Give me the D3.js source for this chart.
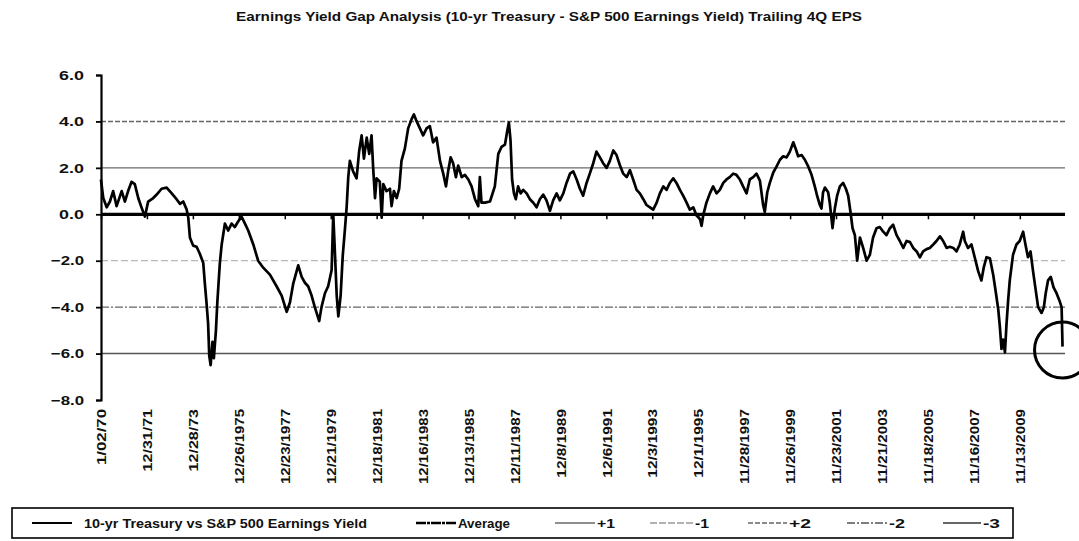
<!DOCTYPE html>
<html><head><meta charset="utf-8">
<script src="https://cdn.jsdelivr.net/npm/d3@7"></script>
<style>
html,body{margin:0;padding:0;background:#fff;}
svg{display:block;}
text{font-family:"Liberation Sans",Arial,sans-serif;fill:#111;}
</style></head>
<body><svg id="chart" width="1079" height="541"></svg>
<script>
// ---------- DATA ----------
const chartTitle = "Earnings Yield Gap Analysis (10-yr Treasury - S&P 500 Earnings Yield) Trailing 4Q EPS";
const years = [
1970.00,1970.10,1970.25,1970.39,1970.53,1970.68,1970.90,1971.04,1971.18,1971.33,1971.47,1971.62,1971.76,1971.91,
1972.05,1972.27,1972.42,1972.63,1972.85,1973.07,1973.28,1973.43,1973.57,1973.72,1973.79,1973.86,1974.00,1974.15,
1974.29,1974.44,1974.51,1974.58,1974.65,1974.70,1974.76,1974.84,1974.90,1974.99,1975.05,1975.16,1975.24,1975.38,
1975.52,1975.67,1975.81,1975.96,1976.10,1976.25,1976.39,1976.61,1976.82,1977.04,1977.33,1977.62,1977.84,1978.06,
1978.20,1978.34,1978.56,1978.71,1978.85,1978.99,1979.14,1979.28,1979.47,1979.57,1979.72,1979.86,1980.01,1980.08,
1980.15,1980.23,1980.30,1980.40,1980.49,1980.59,1980.66,1980.73,1980.80,1980.94,1981.09,1981.20,1981.31,1981.41,
1981.53,1981.64,1981.74,1981.81,1981.89,1981.96,1982.10,1982.18,1982.25,1982.39,1982.54,1982.61,1982.71,1982.83,
1982.94,1983.04,1983.19,1983.33,1983.48,1983.58,1983.70,1983.84,1983.98,1984.13,1984.27,1984.41,1984.56,1984.71,
1984.85,1984.97,1985.07,1985.17,1985.28,1985.40,1985.50,1985.65,1985.79,1985.94,1986.08,1986.23,1986.37,1986.44,
1986.51,1986.66,1986.88,1987.09,1987.24,1987.38,1987.53,1987.63,1987.70,1987.77,1987.84,1987.92,1988.00,1988.10,
1988.21,1988.32,1988.47,1988.61,1988.76,1988.90,1989.04,1989.19,1989.33,1989.48,1989.62,1989.77,1989.91,1990.06,
1990.20,1990.35,1990.49,1990.64,1990.78,1990.92,1991.07,1991.21,1991.36,1991.50,1991.65,1991.79,1991.94,1992.08,
1992.23,1992.37,1992.52,1992.66,1992.81,1992.95,1993.09,1993.24,1993.38,1993.53,1993.67,1993.82,1993.96,1994.11,
1994.25,1994.40,1994.54,1994.68,1994.83,1994.97,1995.12,1995.26,1995.41,1995.55,1995.70,1995.84,1995.99,1996.06,
1996.13,1996.27,1996.42,1996.56,1996.71,1996.85,1997.00,1997.14,1997.28,1997.43,1997.57,1997.72,1997.86,1998.01,
1998.15,1998.30,1998.44,1998.59,1998.73,1998.80,1998.91,1999.02,1999.17,1999.31,1999.46,1999.60,1999.75,1999.89,
2000.04,2000.15,2000.25,2000.40,2000.54,2000.69,2000.83,2000.97,2001.07,2001.19,2001.26,2001.33,2001.41,2001.55,
2001.62,2001.74,2001.84,2001.94,2002.06,2002.20,2002.32,2002.42,2002.52,2002.61,2002.71,2002.81,2002.93,2003.07,
2003.22,2003.36,2003.50,2003.65,2003.79,2003.94,2004.08,2004.23,2004.37,2004.52,2004.66,2004.81,2004.95,2005.10,
2005.24,2005.39,2005.53,2005.67,2005.82,2005.96,2006.11,2006.25,2006.40,2006.54,2006.69,2006.83,2006.98,2007.12,
2007.26,2007.41,2007.48,2007.62,2007.77,2007.91,2008.06,2008.20,2008.30,2008.42,2008.57,2008.71,2008.83,2008.93,
2009.00,2009.07,2009.14,2009.22,2009.29,2009.36,2009.43,2009.57,2009.72,2009.86,2010.01,2010.11,2010.22,2010.33,
2010.44,2010.56,2010.66,2010.81,2010.91,2010.99,2011.09,2011.21,2011.33,2011.46,2011.58,2011.68,2011.72];
const gapValues = [
1.5,0.7,0.3,0.55,1.0,0.35,1.0,0.55,1.0,1.4,1.3,0.7,0.3,-0.1,
0.55,0.7,0.85,1.1,1.15,0.9,0.65,0.45,0.55,0.2,-0.15,-1.0,-1.35,-1.4,
-1.7,-2.1,-3.0,-3.8,-4.7,-6.1,-6.5,-5.5,-6.2,-5.0,-3.8,-2.1,-1.3,-0.4,
-0.7,-0.4,-0.55,-0.3,-0.1,-0.4,-0.7,-1.3,-2.0,-2.3,-2.6,-3.1,-3.5,-4.2,
-3.8,-3.0,-2.2,-2.7,-2.95,-3.1,-3.5,-4.0,-4.6,-4.0,-3.4,-3.1,-2.4,0.0,
-1.6,-3.5,-4.4,-3.5,-1.8,-0.6,0.3,1.6,2.3,1.85,1.55,2.7,3.4,2.4,
3.3,2.6,3.4,2.0,0.7,1.55,1.4,-0.15,1.3,1.0,1.1,0.35,1.0,0.7,
1.1,2.3,2.85,3.7,4.1,4.3,4.0,3.7,3.4,3.7,3.8,3.1,3.3,2.3,
1.75,1.2,1.9,2.45,2.2,1.6,2.1,1.6,1.7,1.5,1.2,0.65,0.35,1.6,
0.5,0.5,0.55,1.2,2.6,2.9,3.0,3.6,3.95,3.2,1.5,0.9,0.65,1.2,
0.9,1.05,0.9,0.65,0.5,0.3,0.65,0.85,0.6,0.15,0.6,0.9,0.6,0.9,
1.35,1.75,1.85,1.5,1.1,0.8,1.35,1.75,2.2,2.7,2.45,2.2,2.0,2.3,
2.75,2.55,2.1,1.75,1.6,1.9,1.5,1.05,0.9,0.65,0.4,0.3,0.2,0.5,
0.9,1.2,1.05,1.35,1.55,1.35,1.05,0.8,0.5,0.2,0.3,-0.05,-0.2,-0.5,
-0.05,0.5,0.9,1.2,0.9,1.05,1.35,1.5,1.6,1.75,1.7,1.5,1.2,0.9,
1.5,1.6,1.75,1.45,0.4,0.1,0.95,1.35,1.8,2.05,2.35,2.5,2.45,2.7,
3.1,2.8,2.5,2.55,2.35,2.05,1.7,1.2,0.8,0.4,0.25,0.95,1.15,0.95,
0.5,-0.6,0.25,0.8,1.2,1.35,1.1,0.8,0.1,-0.6,-0.9,-2.0,-1.0,-1.45,
-2.0,-1.75,-1.0,-0.6,-0.55,-0.75,-0.9,-0.6,-0.45,-0.9,-1.15,-1.45,-1.15,-1.2,
-1.45,-1.6,-1.85,-1.6,-1.5,-1.45,-1.3,-1.15,-0.95,-1.15,-1.45,-1.4,-1.45,-1.6,
-1.3,-0.75,-1.15,-1.45,-1.3,-1.85,-2.45,-2.85,-2.3,-1.85,-1.9,-2.6,-3.4,-4.1,
-4.85,-5.8,-5.4,-5.95,-4.7,-3.7,-2.85,-1.75,-1.3,-1.15,-0.75,-1.3,-1.85,-1.6,
-2.45,-3.3,-4.0,-4.25,-4.0,-3.4,-2.85,-2.7,-3.15,-3.4,-3.7,-4.0,-5.7];
const yTicks = [6, 4, 2, 0, -2, -4, -6, -8];
const tickDates = ["1970-01-02","1971-12-31","1973-12-28","1975-12-26","1977-12-23","1979-12-21","1981-12-18",
  "1983-12-16","1985-12-13","1987-12-11","1989-12-08","1991-12-06","1993-12-03","1995-12-01","1997-11-28",
  "1999-11-26","2001-11-23","2003-11-21","2005-11-18","2007-11-16","2009-11-13"];
const tickLabels = ["1/02/70","12/31/71","12/28/73","12/26/1975","12/23/1977","12/21/1979","12/18/1981",
  "12/16/1983","12/13/1985","12/11/1987","12/8/1989","12/6/1991","12/3/1993","12/1/1995","11/28/1997",
  "11/26/1999","11/23/2001","11/21/2003","11/18/2005","11/16/2007","11/13/2009"];
const seriesName = "10-yr Treasury vs S&P 500 Earnings Yield";
const refLabels = ["Average","+1","-1","+2","-2","-3"];
const refValues = [0, 2, -2, 4, -4, -6];
const highlightValue = -5.85;   // circled last reading

// ---------- SETUP ----------
const svg = d3.select("#chart");
svg.append("rect").attr("width",1079).attr("height",541).attr("fill","#fff");
const parse = d3.timeParse("%Y-%m-%d");
function yearToDate(y){
  const yr = Math.floor(y), a = new Date(yr,0,1), b = new Date(yr+1,0,1);
  return new Date(+a + (y-yr)*(b-a));
}
const data = years.map((y,i)=>({date:yearToDate(y), v:gapValues[i]}));
const tDates = tickDates.map(parse);

const x = d3.scaleTime().domain([parse("1970-01-02"), parse("2011-10-30")]).range([101, 1065]);
const y = d3.scaleLinear().domain([-8, 6]).range([400, 75]);

// title
svg.append("text").attr("x",549).attr("y",21).attr("text-anchor","middle")
  .attr("font-size",12).attr("font-weight","bold").attr("textLength",626)
  .attr("lengthAdjust","spacingAndGlyphs").text(chartTitle);

// reference lines
const refStyle = {
  "Average":{c:"#000",w:3.2,d:null},
  "+1":{c:"#6a6a6a",w:1.3,d:null},
  "-1":{c:"#b8b8b8",w:1.3,d:"7,3"},
  "+2":{c:"#666",w:1.4,d:"5,2"},
  "-2":{c:"#666",w:1.4,d:"8,2,2,2"},
  "-3":{c:"#555",w:1.5,d:null}
};
const order = ["+1","-1","+2","-2","-3","Average"];
order.forEach(lbl=>{
  const i = refLabels.indexOf(lbl), s = refStyle[lbl];
  svg.append("line").attr("x1",x.range()[0]).attr("x2",x.range()[1])
    .attr("y1",y(refValues[i])).attr("y2",y(refValues[i]))
    .attr("stroke",s.c).attr("stroke-width",s.w).attr("stroke-dasharray",s.d);
});

// category ticks on the zero line
const tickAxis = svg.append("g").attr("transform",`translate(0,${y(0)})`)
  .call(d3.axisBottom(x).tickValues(tDates).tickSize(5).tickFormat(""));
tickAxis.select(".domain").remove();
tickAxis.selectAll("line").attr("stroke","#000").attr("stroke-width",1.5);

// x labels
const labAxis = svg.append("g").attr("transform","translate(0,409)")
  .call(d3.axisBottom(x).tickValues(tDates).tickSize(0).tickFormat((d,i)=>tickLabels[i]));
labAxis.select(".domain").remove();
labAxis.selectAll("text")
  .attr("transform","rotate(-90)").attr("text-anchor","end")
  .attr("x",0).attr("y",0).attr("dy","0.36em")
  .attr("font-size",13).attr("font-weight","bold").attr("fill","#111")
  .attr("font-family","'Liberation Sans',Arial,sans-serif")
  .attr("textLength",(d,i)=>tickLabels[i].length*6.3+12)
  .attr("lengthAdjust","spacingAndGlyphs");

// y axis
const yAxis = svg.append("g").attr("transform","translate(101,0)")
  .call(d3.axisLeft(y).tickValues(yTicks).tickSize(5).tickPadding(12).tickFormat(d3.format(".1f")));
yAxis.select(".domain").attr("stroke","#000").attr("stroke-width",2.2);
yAxis.selectAll("line").attr("stroke","#000").attr("stroke-width",1.8);
yAxis.selectAll("text").attr("font-size",13).attr("font-weight","bold").attr("fill","#111")
  .attr("font-family","'Liberation Sans',Arial,sans-serif")
  .attr("textLength",d=>d3.format(".1f")(d).length*8.3).attr("lengthAdjust","spacingAndGlyphs");

// series
const line = d3.line().x(d=>x(d.date)).y(d=>y(d.v)).curve(d3.curveLinear);
svg.append("path").datum(data).attr("d",line).attr("fill","none")
  .attr("stroke","#000").attr("stroke-width",2.7).attr("stroke-linejoin","round");

// circle annotation around last point
const last = data[data.length-1];
svg.append("circle").attr("cx",x(last.date)).attr("cy",y(highlightValue)).attr("r",28)
  .attr("fill","none").attr("stroke","#000").attr("stroke-width",3);

// legend
const lg = svg.append("g");
lg.append("rect").attr("x",12).attr("y",508).attr("width",1001).attr("height",30)
  .attr("fill","none").attr("stroke","#000").attr("stroke-width",1.6);
const legendItems = [
  {label:seriesName, x1:32, x2:72, tx:84, tl:283, c:"#000", w:2, d:null},
  {label:refLabels[0], x1:416, x2:456, tx:458, tl:52, c:"#000", w:2.6, d:"10,1,3,1"},
  {label:refLabels[1], x1:555, x2:595, tx:597, tl:18, c:"#6a6a6a", w:1.3, d:null},
  {label:refLabels[2], x1:650, x2:693, tx:695, tl:14, c:"#999", w:1.3, d:"7,2"},
  {label:refLabels[3], x1:748, x2:787, tx:789, tl:22, c:"#666", w:1.3, d:"5,2"},
  {label:refLabels[4], x1:847, x2:887, tx:889, tl:16, c:"#555", w:1.3, d:"8,2,2,2"},
  {label:refLabels[5], x1:943, x2:981, tx:983, tl:17, c:"#333", w:1.4, d:null}
];
legendItems.forEach(it=>{
  lg.append("line").attr("x1",it.x1).attr("x2",it.x2).attr("y1",523).attr("y2",523)
    .attr("stroke",it.c).attr("stroke-width",it.w).attr("stroke-dasharray",it.d);
  lg.append("text").attr("x",it.tx).attr("y",527.5).attr("font-size",12).attr("font-weight","bold")
    .attr("textLength",it.tl).attr("lengthAdjust","spacingAndGlyphs").text(it.label);
});
</script></body></html>
